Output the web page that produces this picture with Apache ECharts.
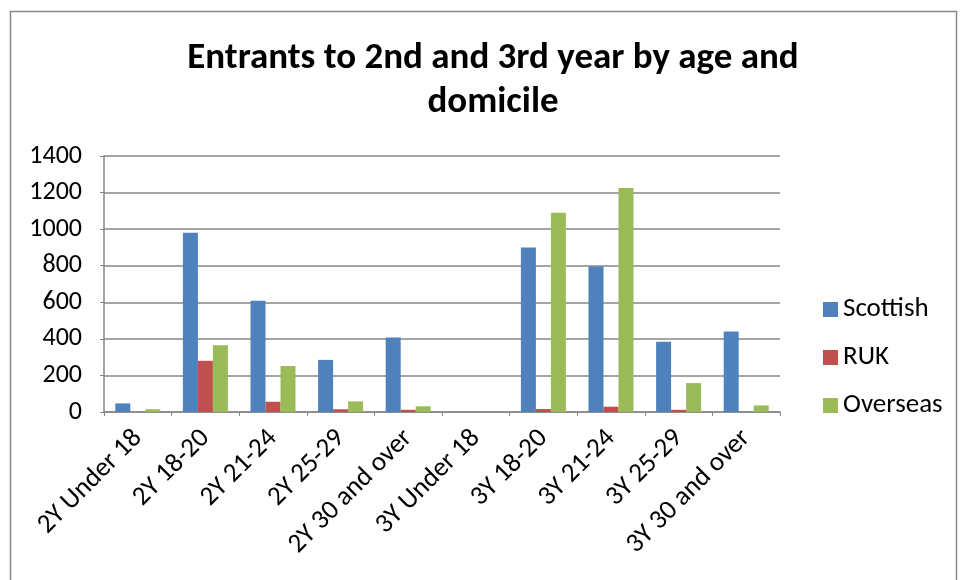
<!DOCTYPE html>
<html>
<head>
<meta charset="utf-8">
<script src="https://cdn.jsdelivr.net/npm/echarts@6/dist/echarts.min.js"></script>
<style>
  html, body { margin: 0; padding: 0; background: #fff; }
  #chart { width: 961px; height: 580px; }
</style>
</head>
<body>
<div id="chart"></div>
<script>
const categories = ['2Y Under 18', '2Y 18-20', '2Y 21-24', '2Y 25-29', '2Y 30 and over',
                    '3Y Under 18', '3Y 18-20', '3Y 21-24', '3Y 25-29', '3Y 30 and over'];
const scottish = [47, 980, 609, 285, 407, 0, 900, 796, 384, 440];
const ruk      = [0, 280, 56, 15, 12, 0, 16, 29, 12, 0];
const overseas = [15, 365, 251, 58, 31, 0, 1090, 1225, 158, 36];
const yTicks = { min: 0, max: 1400, interval: 200 };

const FONT = 'Carlito, Calibri, Lato, sans-serif';
const chart = echarts.init(document.getElementById('chart'));

function barSeries(name, data, color) {
  return {
    name, type: 'bar', data,
    barWidth: 15, barGap: '0%',
    itemStyle: { color },
    emphasis: { disabled: true }
  };
}

chart.setOption({
  animation: false,
  backgroundColor: '#fff',
  textStyle: { fontFamily: FONT },
  graphic: [{
    type: 'rect',
    shape: { x: 10.5, y: 11.5, width: 946, height: 620 },
    style: { fill: 'none', stroke: '#898989', lineWidth: 1.5 },
    silent: true
  }],
  title: {
    text: 'Entrants to 2nd and 3rd year by age and\ndomicile',
    left: 488, top: 32, textAlign: 'center',
    textStyle: { fontFamily: FONT, fontSize: 37, fontWeight: 'bold', color: '#000', lineHeight: 44 }
  },
  legend: {
    orient: 'vertical', left: 818, top: 291,
    itemWidth: 15, itemHeight: 15, itemGap: 21, icon: 'rect',
    textStyle: { fontFamily: FONT, fontSize: 27, lineHeight: 27, color: '#000' },
    data: ['Scottish', 'RUK', 'Overseas']
  },
  grid: { left: 104, right: 181, top: 156, bottom: 168, containLabel: false },
  xAxis: {
    type: 'category', data: categories,
    axisLine: { lineStyle: { color: '#868686', width: 1.5 } },
    axisTick: { show: true, alignWithLabel: false, length: 4, lineStyle: { color: '#868686' } },
    axisLabel: { rotate: 45, interval: 0, fontSize: 27, color: '#000', fontFamily: FONT, margin: 22 }
  },
  yAxis: {
    type: 'value', min: yTicks.min, max: yTicks.max, interval: yTicks.interval,
    axisLine: { show: true, lineStyle: { color: '#868686', width: 1.5 } },
    axisTick: { show: true, length: 4, lineStyle: { color: '#868686' } },
    axisLabel: { fontSize: 26, color: '#000', fontFamily: FONT, margin: 22, formatter: v => String(v) },
    splitLine: { lineStyle: { color: '#868686', width: 1.5 } }
  },
  series: [
    barSeries('Scottish', scottish, '#4F81BD'),
    barSeries('RUK', ruk, '#C0504D'),
    barSeries('Overseas', overseas, '#9BBB59')
  ]
});
</script>
</body>
</html>
